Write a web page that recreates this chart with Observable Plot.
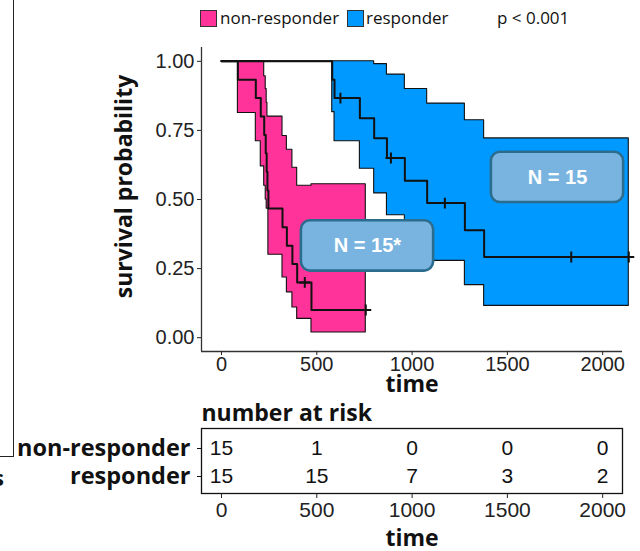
<!DOCTYPE html>
<html>
<head>
<meta charset="utf-8">
<script src="https://cdn.jsdelivr.net/npm/d3@7"></script>
<script src="https://cdn.jsdelivr.net/npm/@observablehq/plot@0.6"></script>
<style>
  html, body { margin: 0; padding: 0; background: #fff; }
  body { width: 640px; height: 551px; overflow: hidden; position: relative; }
  #legend { position: relative; height: 36px; font-family: "Open Sans", sans-serif; font-size: 17px; color: #111; }
  #legend .sw { position: absolute; top: 10px; width: 15px; height: 15px; border: 1px solid #333; }
  #legend .lb { position: absolute; top: 6px; line-height: 24px; white-space: nowrap; }
  #main, #table { position: relative; height: auto; }
  #main svg, #table svg { display: block; }
  #edge { position: absolute; z-index: 3; left: -300px; top: -10px; width: 312px; height: 465px; border: 1px solid #222; }
  #edgeS { position: absolute; z-index: 3; left: -7px; top: 462px; width: 12px; height: 24px; line-height: 24px; overflow: hidden; font: bold 22px "Open Sans", sans-serif; color: #111; }
</style>
</head>
<body>
<div id="edge"></div>
<span id="edgeS">s</span>
<div id="legend"></div>
<div id="main"></div>
<div id="table"></div>
<script>
// ---- data ----
const groups = ["non-responder", "responder"];
const groupColors = ["#ff3399", "#0099ff"];
const pLabel = "p < 0.001";

// non-responder Kaplan-Meier steps
const nrTime  = [0, 86, 180, 206, 224, 232, 237, 241, 246, 320, 343, 372, 397, 472, 757];
const nrSurv  = [1, 0.933, 0.867, 0.800, 0.733, 0.667, 0.600, 0.533, 0.467, 0.400, 0.333, 0.267, 0.200, 0.100, 0.100];
const nrUpper = [1, 1, 1, 1, 0.946, 0.90, 0.85, 0.80, 0.80, 0.73, 0.68, 0.615, 0.55, 0.555, 0.555];
const nrLower = [1, 0.813, 0.711, 0.62, 0.55, 0.50, 0.467, 0.467, 0.30, 0.218, 0.164, 0.109, 0.068, 0.019, 0.019];
const nrCensor = [437, 757];

// responder Kaplan-Meier steps
const rTime  = [0, 581, 593, 726, 801, 868, 962, 1079, 1277, 1378, 2137];
const rSurv  = [1, 0.933, 0.867, 0.794, 0.722, 0.650, 0.568, 0.487, 0.389, 0.292, 0.292];
const rUpper = [1, 1, 1, 1, 0.99, 0.952, 0.90, 0.847, 0.787, 0.721, 0.721];
const rLower = [1, 0.816, 0.711, 0.611, 0.522, 0.443, 0.36, 0.278, 0.19, 0.115, 0.115];
const rCensor = [624, 889, 1172, 1835, 2137];

// annotations
const annoText = ["N = 15*", "N = 15"];
const annoTime = [766, 1763];
const annoProb = [0.332, 0.58];

// number at risk
const riskTimes = [0, 500, 1000, 1500, 2000];
const riskNon  = [15, 1, 0, 0, 0];
const riskResp = [15, 15, 7, 3, 2];

const xTicks = [0, 500, 1000, 1500, 2000];
const yTicks = [0, 0.25, 0.5, 0.75, 1];

// ---- build tables ----
function steps(g, T, S, U, L) { return T.map((t, i) => ({group: g, time: t, surv: S[i], upper: U[i], lower: L[i]})); }
const curveRows = [
  ...steps(groups[0], nrTime, nrSurv, nrUpper, nrLower),
  ...steps(groups[1], rTime, rSurv, rUpper, rLower)
];
function survAt(T, S, t) { let v = S[0]; for (let i = 0; i < T.length; i++) if (T[i] <= t) v = S[i]; return v; }
const censorRows = [
  ...nrCensor.map(t => ({group: groups[0], time: t, surv: survAt(nrTime, nrSurv, t)})),
  ...rCensor.map(t => ({group: groups[1], time: t, surv: survAt(rTime, rSurv, t)}))
];
const boxHalfW = 347, boxHalfH = 0.091;
const annoRows = annoText.map((s, i) => ({text: s, x: annoTime[i], y: annoProb[i]}));
const riskRows = [
  ...riskTimes.map((t, i) => ({group: groups[0], time: t, n: riskNon[i]})),
  ...riskTimes.map((t, i) => ({group: groups[1], time: t, n: riskResp[i]}))
];

const xDomain = [-105, 2104];
const yDomain = [-0.05, 1.05];
const sans = "Liberation Sans, Arial, sans-serif";
const bold = "Open Sans, sans-serif";
const fmtInt = d3.format("d");

// ---- legend (HTML) ----
const leg = document.getElementById("legend");
const legX = [200, 347];
const legTextX = [220, 366];
groups.forEach((g, i) => {
  const sw = document.createElement("div"); sw.className = "sw"; sw.style.left = legX[i] + "px"; sw.style.background = groupColors[i]; leg.appendChild(sw);
  const lb = document.createElement("div"); lb.className = "lb"; lb.style.left = legTextX[i] + "px"; lb.textContent = g; leg.appendChild(lb);
});
const pl = document.createElement("div"); pl.className = "lb"; pl.style.left = "497px"; pl.textContent = pLabel; leg.appendChild(pl);

// ---- main survival plot ----
const main = Plot.plot({
  width: 640, height: 364,
  marginLeft: 201, marginRight: 18, marginTop: 11, marginBottom: 49,
  style: {fontFamily: sans, background: "white", overflow: "visible"},
  x: {domain: xDomain},
  y: {domain: yDomain},
  color: {domain: groups, range: groupColors},
  marks: [
    Plot.areaY(curveRows, {x: "time", y1: "lower", y2: "upper", z: "group", fill: "group", stroke: "#111", strokeWidth: 1.1, curve: "step-after"}),
    Plot.line(curveRows, {x: "time", y: "surv", z: "group", stroke: "#111", strokeWidth: 2, curve: "step-after"}),
    Plot.dot(censorRows, {x: "time", y: "surv", symbol: "plus", r: 3.6, stroke: "#111", strokeWidth: 2}),
    Plot.rect(annoRows, {x1: d => d.x - boxHalfW, x2: d => d.x + boxHalfW, y1: d => d.y - boxHalfH, y2: d => d.y + boxHalfH, fill: "#79b4e0", stroke: "#2b6d8e", strokeWidth: 2.6, rx: 9}),
    Plot.text(annoRows, {x: "x", y: "y", text: "text", fill: "white", fontSize: 20, fontWeight: "bold", fontFamily: sans}),
    Plot.ruleX([xDomain[0]], {stroke: "#333", strokeWidth: 1.3}),
    Plot.ruleY([yDomain[0]], {stroke: "#333", strokeWidth: 1.3}),
    Plot.axisX({ticks: xTicks, tickFormat: fmtInt, tickSize: 4, tickPadding: 1, label: null, fontSize: 20, color: "#222"}),
    Plot.axisY({ticks: yTicks, tickFormat: d3.format(".2f"), tickSize: 4, tickPadding: 3, label: null, fontSize: 20, color: "#222"}),
    Plot.text(["survival probability"], {frameAnchor: "left", textAnchor: "middle", lineAnchor: "middle", dx: -77, dy: -13, rotate: -90, fontSize: 23, fontWeight: "bold", fontFamily: bold, fill: "#111"}),
    Plot.text(["time"], {frameAnchor: "bottom", textAnchor: "middle", lineAnchor: "middle", dy: 33, fontSize: 23, fontWeight: "bold", fontFamily: bold, fill: "#111"})
  ]
});
document.getElementById("main").appendChild(main);

// ---- number at risk table ----
const table = Plot.plot({
  width: 640, height: 151,
  marginLeft: 201, marginRight: 18, marginTop: 28, marginBottom: 58,
  style: {fontFamily: sans, background: "white", overflow: "visible"},
  x: {domain: xDomain},
  y: {type: "point", domain: groups, range: [47.5, 76], padding: 0},
  marks: [
    Plot.frame({stroke: "#111", strokeWidth: 1.3}),
    Plot.text(riskRows, {x: "time", y: "group", text: "n", fontSize: 21, fill: "#111"}),
    Plot.axisX({ticks: xTicks, tickFormat: fmtInt, tickSize: 5, tickPadding: 4, label: null, fontSize: 21, color: "#222"}),
    Plot.axisY({tickSize: 4, tickPadding: 7, label: null, fontSize: 23.5, fontWeight: "bold", fontFamily: bold, color: "#111"}),
    Plot.text(["number at risk"], {frameAnchor: "top-left", textAnchor: "start", lineAnchor: "middle", dy: -15, fontSize: 23, fontWeight: "bold", fontFamily: bold, fill: "#111"}),
    Plot.text(["time"], {frameAnchor: "bottom", textAnchor: "middle", lineAnchor: "middle", dy: 45, fontSize: 23, fontWeight: "bold", fontFamily: bold, fill: "#111"})
  ]
});
document.getElementById("table").appendChild(table);
</script>
</body>
</html>
